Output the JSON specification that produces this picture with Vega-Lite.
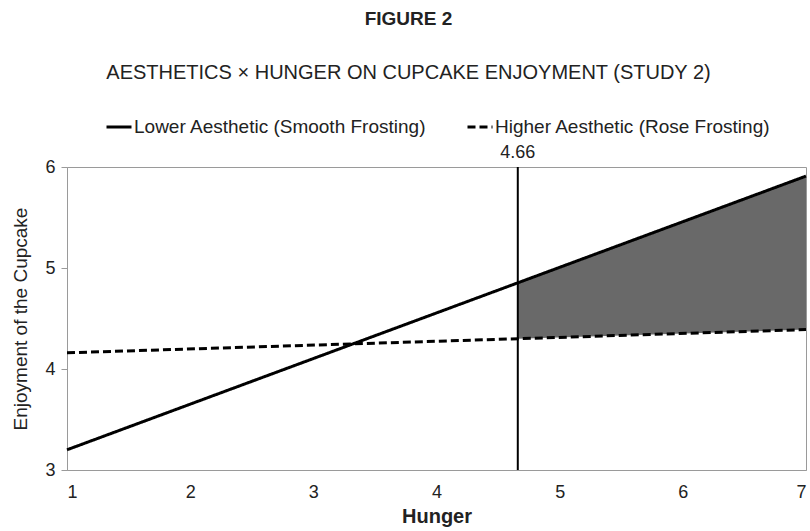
{
  "$schema": "https://vega.github.io/schema/vega-lite/v6.json",
  "width": 739,
  "height": 303,
  "autosize": {"type": "none"},
  "padding": {"left": 67, "top": 167, "right": 4, "bottom": 61},
  "background": "white",
  "config": {
    "font": "Liberation Sans",
    "view": {"stroke": "#9a9a9a", "strokeWidth": 1},
    "axis": {"grid": false, "domainColor": "#9a9a9a", "tickColor": "#9a9a9a", "labelColor": "#222", "titleColor": "#222", "labelFontSize": 18, "titleFontSize": 19, "labelFont": "Liberation Sans", "titleFont": "Liberation Sans"}
  },
  "title": {
    "text": "FIGURE 2",
    "subtitle": "AESTHETICS × HUNGER ON CUPCAKE ENJOYMENT (STUDY 2)",
    "fontSize": 19,
    "fontWeight": "bold",
    "subtitleFontSize": 20,
    "subtitleColor": "#222",
    "color": "#222",
    "subtitlePadding": 34,
    "offset": 30,
    "dx": -28,
    "anchor": "middle"
  },
  "datasets": {
    "lines": [
      {"series": "Lower Aesthetic (Smooth Frosting)", "hunger": 1, "enjoyment": 3.2},
      {"series": "Lower Aesthetic (Smooth Frosting)", "hunger": 7, "enjoyment": 5.91},
      {"series": "Higher Aesthetic (Rose Frosting)", "hunger": 1, "enjoyment": 4.16},
      {"series": "Higher Aesthetic (Rose Frosting)", "hunger": 7, "enjoyment": 4.39}
    ],
    "region": [
      {"hunger": 4.66, "low": 4.3, "high": 4.85},
      {"hunger": 7, "low": 4.39, "high": 5.91}
    ],
    "jn": [{"hunger": 4.66, "label": "4.66", "top": 6}]
  },
  "layer": [
    {
      "data": {"name": "region"},
      "mark": {"type": "area", "color": "#696969", "opacity": 1},
      "encoding": {
        "x": {"field": "hunger", "type": "quantitative", "scale": {"domain": [1, 7], "nice": false}},
        "y": {"field": "low", "type": "quantitative", "scale": {"domain": [3, 6], "nice": false}},
        "y2": {"field": "high"}
      }
    },
    {
      "data": {"name": "jn"},
      "mark": {"type": "rule", "color": "black", "strokeWidth": 2},
      "encoding": {
        "x": {"field": "hunger", "type": "quantitative"}
      }
    },
    {
      "data": {"name": "jn"},
      "mark": {"type": "text", "fontSize": 18, "dy": -14, "color": "#222"},
      "encoding": {
        "x": {"field": "hunger", "type": "quantitative"},
        "y": {"field": "top", "type": "quantitative"},
        "text": {"field": "label"}
      }
    },
    {
      "data": {"name": "lines"},
      "mark": {"type": "line", "color": "black", "strokeWidth": 3},
      "encoding": {
        "x": {
          "field": "hunger", "type": "quantitative",
          "axis": {"title": "Hunger", "titleFontWeight": "bold", "titleFontSize": 20, "values": [1, 2, 3, 4, 5, 6, 7], "format": "d", "ticks": false, "labelPadding": 13, "titlePadding": 5, "domain": true}
        },
        "y": {
          "field": "enjoyment", "type": "quantitative",
          "axis": {"title": "Enjoyment of the Cupcake", "titleFontWeight": "normal", "values": [3, 4, 5, 6], "format": "d", "tickSize": 6, "labelPadding": 6, "titlePadding": 14}
        },
        "strokeDash": {
          "field": "series", "type": "nominal",
          "scale": {"domain": ["Lower Aesthetic (Smooth Frosting)", "Higher Aesthetic (Rose Frosting)"], "range": [[1, 0], [8, 4]]},
          "legend": {
            "title": null,
            "orient": "none",
            "legendX": 38,
            "legendY": -54,
            "direction": "horizontal",
            "symbolType": "stroke",
            "symbolStrokeColor": "black",
            "symbolStrokeWidth": 3,
            "symbolSize": 625,
            "labelFontSize": 19,
            "labelColor": "#222",
            "labelOffset": 1,
            "columnPadding": 34,
            "labelLimit": 400
          }
        }
      }
    }
  ]
}
